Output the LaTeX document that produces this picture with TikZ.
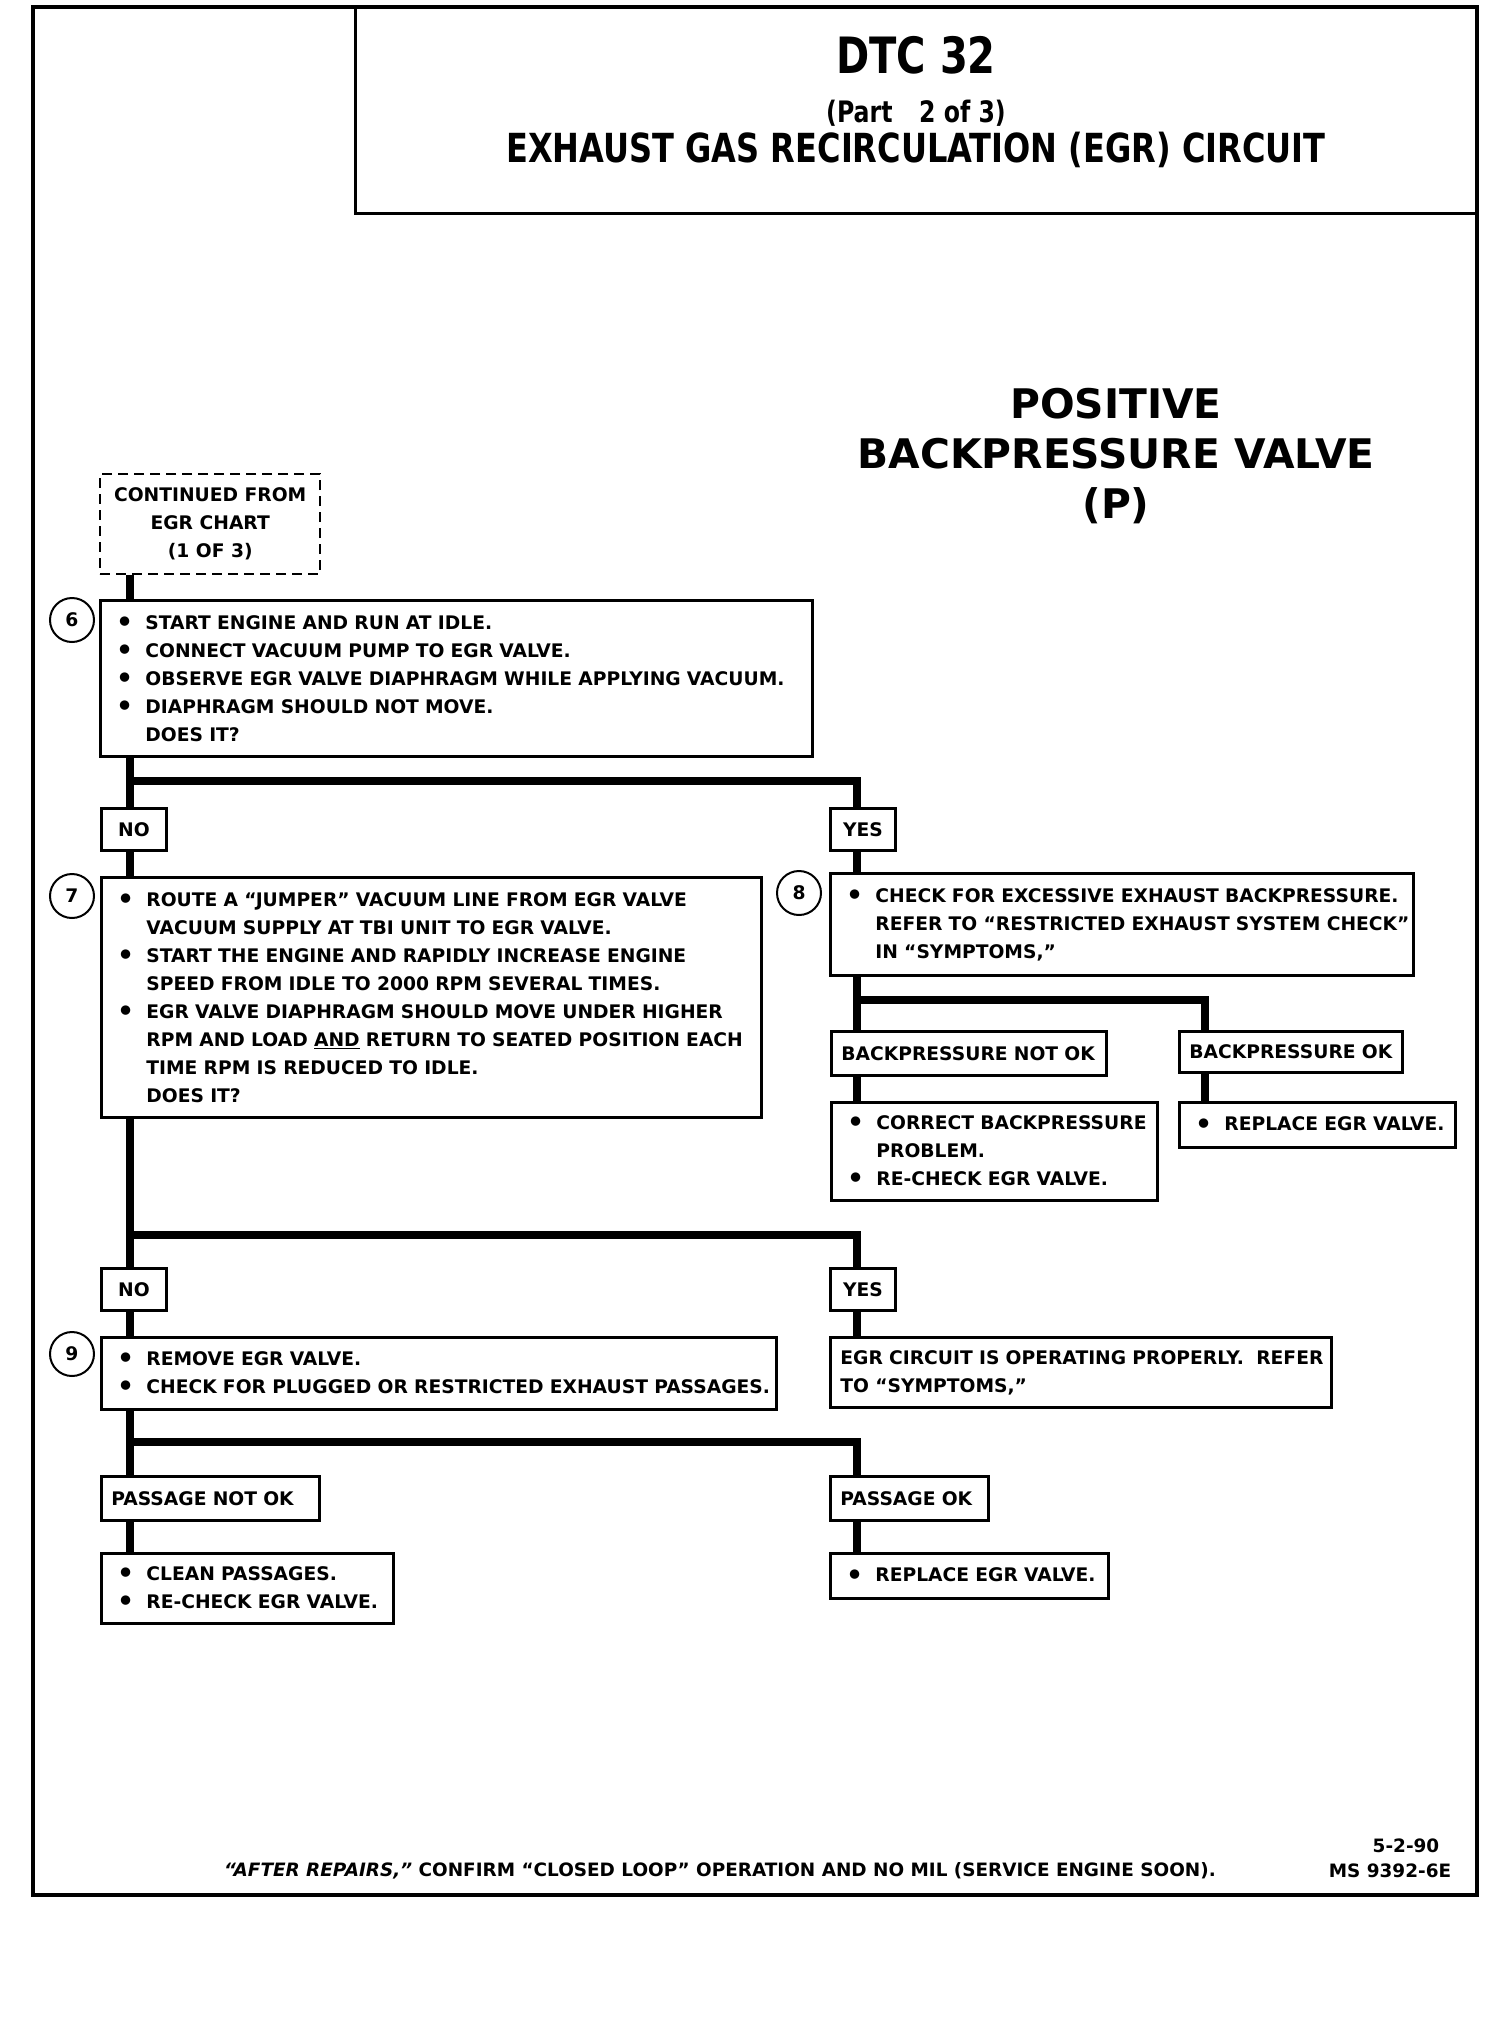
\documentclass[tikz,border=0pt]{standalone}
\usepackage{fontspec}
\setmainfont{DejaVu Sans}
\newfontfamily\titlefont{DejaVu Sans}[FakeStretch=0.8]

\newlength\bulind
\setlength\bulind{8.75mm}
\newcommand\bul[1]{\mbox{\makebox[\bulind][l]{\hspace{1.4mm}\raisebox{-1.7pt}{\fontsize{19pt}{19pt}\selectfont\textbullet}}#1}}
\newcommand\nxt[1]{\mbox{\hspace*{\bulind}#1}}

\begin{document}
\begin{tikzpicture}[x=0.25mm, y=-0.25mm,
  font=\fontsize{13.3pt}{19.9pt}\selectfont\bfseries,
  stepbox/.style={draw, line width=0.7mm, anchor=north west, align=left,
    inner xsep=2.5mm, inner ysep=0pt},
  tagbox/.style={draw, line width=0.7mm, anchor=north west, align=left,
    inner xsep=2.5mm, inner ysep=0pt, minimum height=11mm},
  yesno/.style={draw, line width=0.7mm, anchor=north west, inner sep=0pt,
    minimum width=16.25mm, minimum height=10.5mm},
  numcirc/.style={draw, circle, line width=0.5mm, minimum size=11mm, inner sep=0pt},
  conn/.style={line width=1.9mm}]

\useasboundingbox (0,0) rectangle (1488,2042);

% frame and title
\draw[line width=1mm] (33,7) rectangle (1477,1895);
\draw[line width=0.75mm] (355,7) |- (1477,213);

\node[font=\titlefont\bfseries\fontsize{35.6pt}{40pt}\selectfont] (dtc) at (916,55) {DTC 32};
\node[font=\titlefont\bfseries\fontsize{21pt}{24pt}\selectfont] (part) at (916,113) {(Part\hspace{0.9em}2 of 3)};
\node[font=\titlefont\bfseries\fontsize{28.5pt}{32pt}\selectfont] (circuit) at (916,150) {EXHAUST GAS RECIRCULATION (EGR) CIRCUIT};

\node[align=center, font=\fontsize{29pt}{35.6pt}\selectfont\bfseries] (valve) at (1116,456)
  {POSITIVE\\BACKPRESSURE VALVE\\(P)};

% boxes
\node[draw, line width=0.6mm, dash pattern=on 2.5mm off 1.5mm, anchor=north west,
  minimum width=55mm, minimum height=25mm, align=center] (start) at (99,473)
  {CONTINUED FROM\\EGR CHART\\(1 OF 3)};

\node[stepbox, text width=173mm, minimum height=39mm] (s6) at (99,599)
  {\bul{START ENGINE AND RUN AT IDLE.}\\
   \bul{CONNECT VACUUM PUMP TO EGR VALVE.}\\
   \bul{OBSERVE EGR VALVE DIAPHRAGM WHILE APPLYING VACUUM.}\\
   \bul{DIAPHRAGM SHOULD NOT MOVE.}\\
   \nxt{DOES IT?}};
\node[numcirc] (c6) at (72,620) {6};

\node[yesno] (no1) at (100,807) {NO};
\node[yesno] (yes1) at (829,807) {YES};

\node[stepbox, text width=160mm, minimum height=60mm] (s7) at (100,876)
  {\bul{ROUTE A “JUMPER” VACUUM LINE FROM EGR VALVE}\\
   \nxt{VACUUM SUPPLY AT TBI UNIT TO EGR VALVE.}\\
   \bul{START THE ENGINE AND RAPIDLY INCREASE ENGINE}\\
   \nxt{SPEED FROM IDLE TO 2000 RPM SEVERAL TIMES.}\\
   \bul{EGR VALVE DIAPHRAGM SHOULD MOVE UNDER HIGHER}\\
   \nxt{RPM AND LOAD \underline{AND} RETURN TO SEATED POSITION EACH}\\
   \nxt{TIME RPM IS REDUCED TO IDLE.}\\
   \nxt{DOES IT?}};
\node[numcirc] (c7) at (72,896) {7};

\node[stepbox, text width=140.75mm, minimum height=25.5mm] (s8) at (829,872)
  {\bul{CHECK FOR EXCESSIVE EXHAUST BACKPRESSURE.}\\
   \nxt{REFER TO “RESTRICTED EXHAUST SYSTEM CHECK”}\\
   \nxt{IN “SYMPTOMS,”}};
\node[numcirc] (c8) at (799,893) {8};

\node[tagbox, text width=63.75mm] (bpnok) at (830,1030) {BACKPRESSURE NOT OK};
\node[tagbox, text width=50.75mm, minimum height=10.25mm] (bpok) at (1178,1030) {BACKPRESSURE OK};

\node[stepbox, text width=76.5mm, minimum height=24.5mm] (cor) at (830,1101)
  {\bul{CORRECT BACKPRESSURE}\\
   \nxt{PROBLEM.}\\
   \bul{RE-CHECK EGR VALVE.}};
\node[stepbox, text width=64mm, minimum height=11.25mm] (rep1) at (1178,1101)
  {\bul{REPLACE EGR VALVE.}};

\node[yesno] (no2) at (100,1267) {NO};
\node[yesno] (yes2) at (829,1267) {YES};

\node[stepbox, text width=163.75mm, minimum height=18mm] (s9) at (100,1336)
  {\bul{REMOVE EGR VALVE.}\\
   \bul{CHECK FOR PLUGGED OR RESTRICTED EXHAUST PASSAGES.}};
\node[numcirc] (c9) at (72,1354) {9};

\node[stepbox, text width=120.25mm, minimum height=17.5mm] (egrok) at (829,1336)
  {\mbox{EGR CIRCUIT IS OPERATING PROPERLY.\ \ REFER}\\
   \mbox{TO “SYMPTOMS,”}};

\node[tagbox, text width=49.5mm] (pnok) at (100,1475) {PASSAGE NOT OK};
\node[tagbox, text width=34.5mm] (pok) at (829,1475) {PASSAGE OK};

\node[stepbox, text width=68mm, minimum height=17.5mm] (clean) at (100,1552)
  {\bul{CLEAN PASSAGES.}\\
   \bul{RE-CHECK EGR VALVE.}};
\node[stepbox, text width=64.5mm, minimum height=11.25mm] (rep2) at (829,1552)
  {\bul{REPLACE EGR VALVE.}};

% connectors
\coordinate (tr) at (130,0);
\coordinate (rb) at (857,0);
\coordinate (rx) at (1205,0);
\coordinate (j1) at (130,781);
\coordinate (j2) at (130,1235);
\coordinate (j3) at (130,1442);
\coordinate (j4) at (857,1000);

\draw[conn] (start.south -| tr) -- (s6.north -| tr);
\draw[conn] (s6.south -| tr) -- (no1.north -| tr);
\draw[conn] (j1) -| (yes1.north -| rb);
\draw[conn] (no1.south -| tr) -- (s7.north -| tr);
\draw[conn] (yes1.south -| rb) -- (s8.north -| rb);
\draw[conn] (s8.south -| rb) -- (bpnok.north -| rb);
\draw[conn] (j4) -| (bpok.north -| rx);
\draw[conn] (bpnok.south -| rb) -- (cor.north -| rb);
\draw[conn] (bpok.south -| rx) -- (rep1.north -| rx);
\draw[conn] (s7.south -| tr) -- (no2.north -| tr);
\draw[conn] (j2) -| (yes2.north -| rb);
\draw[conn] (no2.south -| tr) -- (s9.north -| tr);
\draw[conn] (yes2.south -| rb) -- (egrok.north -| rb);
\draw[conn] (s9.south -| tr) -- (pnok.north -| tr);
\draw[conn] (j3) -| (pok.north -| rb);
\draw[conn] (pnok.south -| tr) -- (clean.north -| tr);
\draw[conn] (pok.south -| rb) -- (rep2.north -| rb);

% footer
\node[font=\fontsize{13.1pt}{15pt}\selectfont\bfseries] (note) at (720,1871)
  {\textit{“AFTER REPAIRS,”} CONFIRM “CLOSED LOOP” OPERATION AND NO MIL (SERVICE ENGINE SOON).};
\node[font=\fontsize{13.1pt}{15pt}\selectfont\bfseries] (date) at (1406,1846) {5-2-90};
\node[font=\fontsize{13.1pt}{15pt}\selectfont\bfseries] (ms) at (1390,1871) {MS 9392-6E};
\end{tikzpicture}
\end{document}
